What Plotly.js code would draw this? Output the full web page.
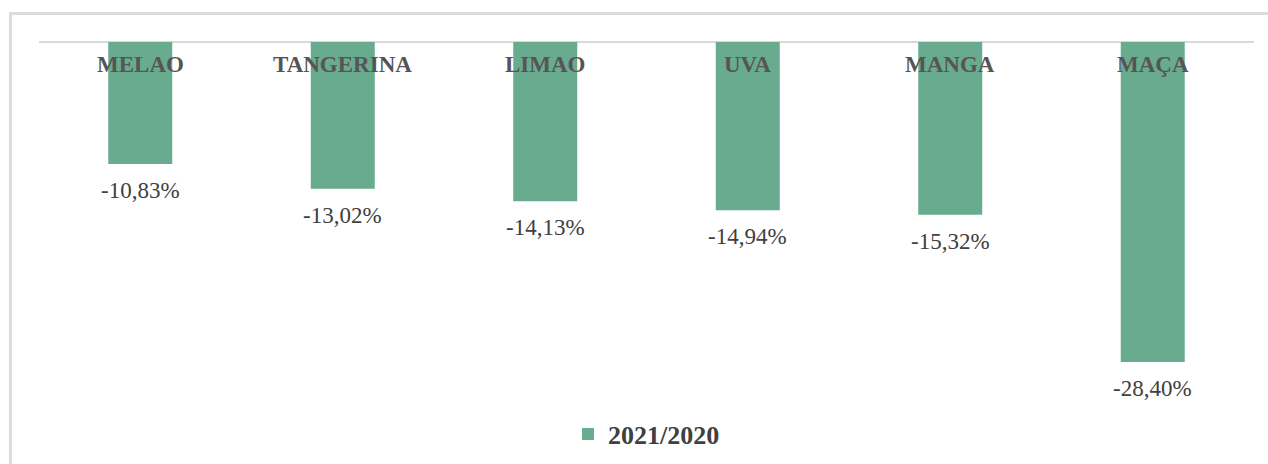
<!DOCTYPE html>
<html>
<head>
<meta charset="utf-8">
<script src="https://cdn.plot.ly/plotly-3.0.1.min.js"></script>
<style>
  html, body { margin: 0; padding: 0; background: #ffffff; }
  #chart { width: 1268px; height: 464px; }
</style>
</head>
<body>
<div id="chart"></div>
<script>
const categories = ["MELAO", "TANGERINA", "LIMAO", "UVA", "MANGA", "MAÇA"];
const seriesName = "2021/2020";
const values = [-10.83, -13.02, -14.13, -14.94, -15.32, -28.40];

const valueLabels = values.map(v => v.toFixed(2).replace('.', ',') + '%');

const serif = "Liberation Serif, Times New Roman, serif";

const trace = {
  type: 'bar',
  x: categories,
  y: values,
  name: seriesName,
  marker: { color: '#69ab8f' },
  width: 0.316,
  hoverinfo: 'x+y',
  showlegend: true
};

const annotations = [];
categories.forEach((c, i) => {
  annotations.push({
    x: c, y: 0, xref: 'x', yref: 'y',
    text: '<b>' + c + '</b>',
    showarrow: false, yanchor: 'middle', xanchor: 'center', yshift: -22,
    font: { family: serif, size: 23, color: '#555555' }
  });
  annotations.push({
    x: c, y: values[i], xref: 'x', yref: 'y',
    text: valueLabels[i],
    showarrow: false, yanchor: 'top', xanchor: 'center', yshift: -12,
    font: { family: serif, size: 23, color: '#404040' }
  });
});

const layout = {
  width: 1268, height: 464,
  margin: { l: 39, r: 14, t: 42, b: 64, pad: 0, autoexpand: false },
  paper_bgcolor: '#ffffff', plot_bgcolor: '#ffffff',
  font: { family: serif, color: '#404040' },
  xaxis: {
    type: 'category', showticklabels: false, showgrid: false, zeroline: false,
    showline: false, ticks: '', fixedrange: true, automargin: false
  },
  yaxis: {
    range: [-31.77, 0], showticklabels: false, showgrid: false,
    zeroline: true, zerolinecolor: '#d9d9d9', zerolinewidth: 2,
    showline: false, ticks: '', fixedrange: true, automargin: false
  },
  showlegend: true,
  legend: {
    orientation: 'h', x: 0.5, xanchor: 'center', y: -0.095, yanchor: 'middle',
    font: { family: serif, size: 26, color: '#404040', weight: 'bold' },
    bgcolor: 'rgba(0,0,0,0)', itemwidth: 30
  },
  annotations: annotations,
  shapes: [{
    type: 'rect', xref: 'paper', yref: 'paper',
    x0: -0.0235, x1: 1.05, y0: -0.3, y1: 1.0796,
    line: { color: '#dcdcdc', width: 3 }, fillcolor: 'rgba(0,0,0,0)', layer: 'below'
  }]
};

Plotly.newPlot('chart', [trace], layout, { displayModeBar: false, staticPlot: true });
</script>
</body>
</html>
